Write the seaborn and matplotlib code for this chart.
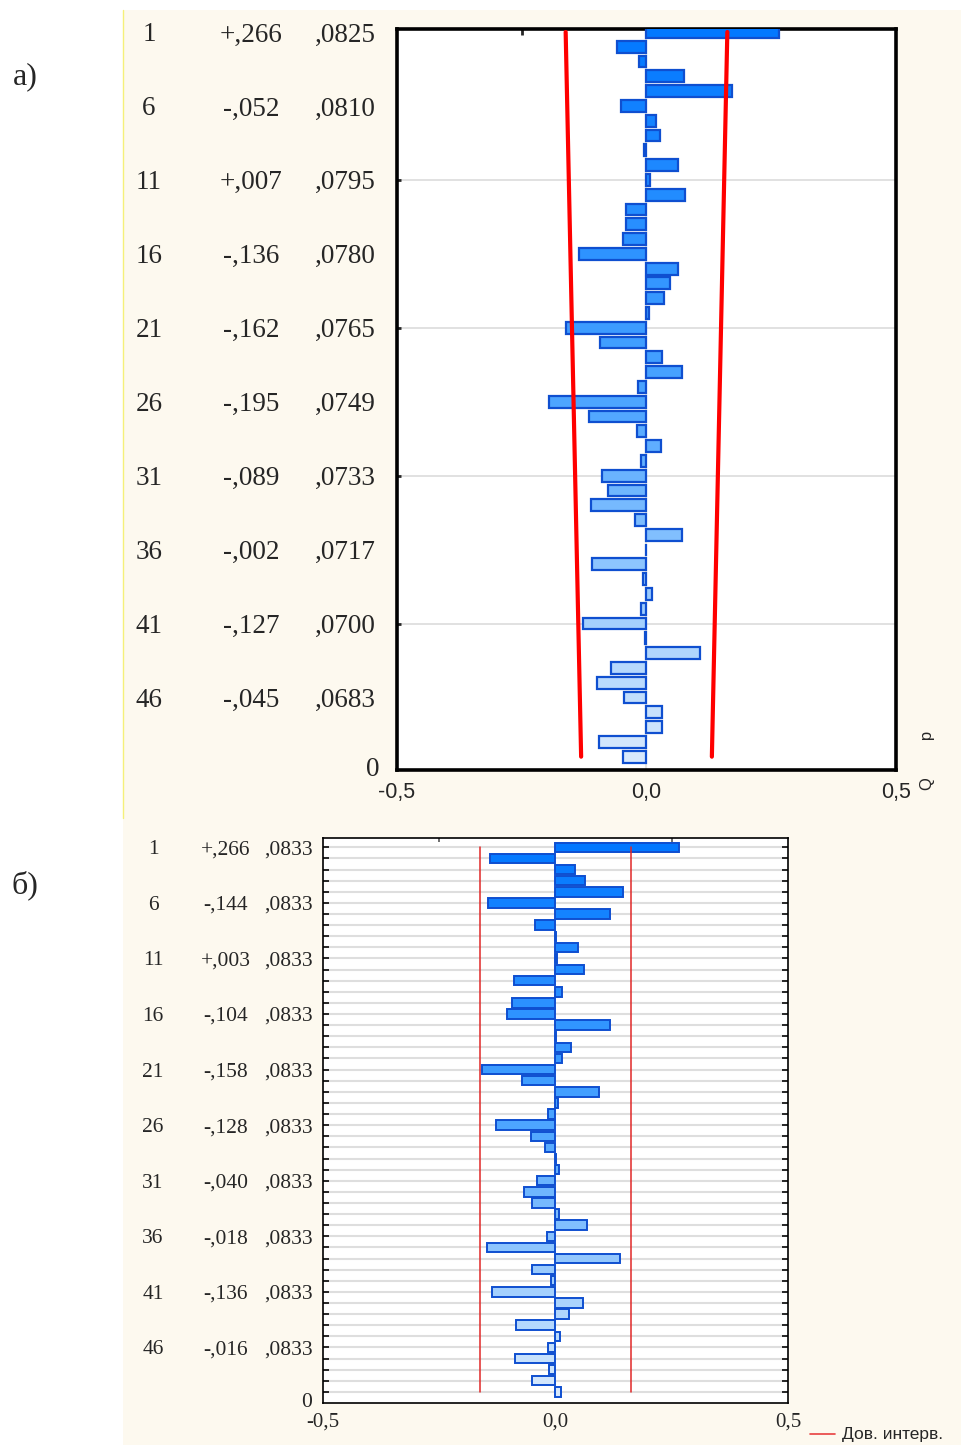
import matplotlib
matplotlib.use("Agg")
import matplotlib.pyplot as plt
import matplotlib.transforms as mtransforms
from matplotlib.colors import LinearSegmentedColormap, to_hex
from matplotlib.patches import Rectangle
from matplotlib.lines import Line2D
import seaborn as sns
import pandas as pd

# --- data -----------------------------------------------------------------
lags = list(range(1, 51))

# a) autocorrelation
acf = [0.266, -0.060, -0.015, 0.075, 0.172, -0.052, 0.019, 0.027, -0.005, 0.064,
       0.007, 0.078, -0.041, -0.041, -0.047, -0.136, 0.063, 0.047, 0.036, 0.005,
       -0.162, -0.094, 0.031, 0.071, -0.017, -0.195, -0.115, -0.019, 0.030, -0.012,
       -0.089, -0.077, -0.111, -0.023, 0.071, -0.002, -0.109, -0.007, 0.011, -0.012,
       -0.127, -0.003, 0.108, -0.072, -0.100, -0.045, 0.032, 0.032, -0.095, -0.047]
acf_se = [0.0825, 0.0810, 0.0795, 0.0780, 0.0765, 0.0749, 0.0733, 0.0717, 0.0700, 0.0683]
acf_ci_lags = [1, 50]
acf_ci = [0.162, 0.131]

# b) partial autocorrelation
pacf = [0.266, -0.141, 0.041, 0.064, 0.144, -0.144, 0.118, -0.045, 0.002, 0.048,
        0.003, 0.061, -0.090, 0.015, -0.093, -0.104, 0.116, 0.002, 0.033, 0.015,
        -0.158, -0.073, 0.094, 0.006, -0.016, -0.128, -0.053, -0.022, 0.002, 0.007,
        -0.040, -0.068, -0.050, 0.007, 0.068, -0.018, -0.148, 0.138, -0.050, -0.010,
        -0.136, 0.060, 0.030, -0.085, 0.010, -0.016, -0.086, -0.013, -0.050, 0.012]
pacf_se = [0.0833] * 10
pacf_ci = 0.163

label_lags = lags[::5]
xtick_vals = [-0.5, 0.0, 0.5]
xtick_text = ["-0,5", "0,0", "0,5"]

# --- style ----------------------------------------------------------------
sns.set_style("white")
SERIF = ["Liberation Serif", "DejaVu Serif"]
SANS = ["Liberation Sans", "DejaVu Sans"]
plt.rcParams["font.family"] = SANS

W, H = 962, 1445
def fx(x):
    return x / W
def fy(y):
    return 1 - y / H

cmap = LinearSegmentedColormap.from_list("bars", ["#0278ff", "#4aa4ff", "#d8e9fc"])
pal = {lag: to_hex(cmap(i / (len(lags) - 1))) for i, lag in enumerate(lags)}
shadow = {lag: to_hex(cmap(min(1.0, i / (len(lags) - 1) + 0.12))) for i, lag in enumerate(lags)}
edge = "#0f4fd0"


def fmt_r(v):
    s = f"{abs(v):.3f}"[1:].replace(".", ",")
    return ("+" if v >= 0 else "-") + s


def fmt_se(v):
    return f"{v:.4f}"[1:].replace(".", ",")


fig = plt.figure(figsize=(W / 100, H / 100), dpi=100)
fig.patch.set_facecolor("white")
fig.patches.append(Rectangle((fx(123), 0), 1 - fx(123), fy(10), transform=fig.transFigure,
                             facecolor="#fdf9ef", edgecolor="none", zorder=-5))
fig.lines.append(Line2D([fx(123), fx(123)], [fy(10), fy(818)], transform=fig.transFigure,
                        color="#f5f07a", lw=1, zorder=-4))

# --- panel a --------------------------------------------------------------
ax1 = fig.add_axes([fx(397), fy(770), (896 - 397) / W, (770 - 29) / H])
ax1.set_facecolor("white")
df_a = pd.DataFrame({"lag": lags, "r": acf})
# soft halo behind each bar, then the outlined bar
sns.barplot(data=df_a, x="r", y="lag", hue="lag", palette=shadow, orient="h",
            native_scale=True, width=0.9, errorbar=None, saturation=1,
            linewidth=0, legend=False, ax=ax1, zorder=2, alpha=0.55)
sns.barplot(data=df_a, x="r", y="lag", hue="lag", palette=pal, orient="h",
            native_scale=True, width=0.8, errorbar=None, saturation=1, edgecolor=edge,
            linewidth=1.6, legend=False, ax=ax1, zorder=3)
ax1.axvline(0, color="#e4e4e4", lw=1.5, zorder=1)
ax1.plot([-c for c in acf_ci], acf_ci_lags, color="red", lw=3, zorder=4)
ax1.plot(acf_ci, acf_ci_lags, color="red", lw=3, zorder=4)
ax1.set_xlim(-0.5, 0.5)
ax1.set_ylim(50.9, 0.8)
ax1.set_yticks(lags[10::10])
ax1.set_yticklabels([])
ax1.yaxis.grid(True, color="#dcdcdc", lw=1.2)
ax1.tick_params(axis="y", direction="in", length=3, width=2, left=True)
ax1.set_xticks(xtick_vals)
ax1.set_xticklabels(xtick_text, fontsize=15.5, family=SANS)
ax1.tick_params(axis="x", length=0, pad=9)
ax1.set_xticks([-0.25, 0, 0.25], minor=True)
ax1.tick_params(axis="x", which="minor", top=True, bottom=False, direction="in", length=4, width=2)
ax1.set_xlabel("")
ax1.set_ylabel("")
for s in ax1.spines.values():
    s.set_color("black")
    s.set_linewidth(2.6)

tr1 = mtransforms.blended_transform_factory(fig.transFigure, ax1.transData)
for lag, se in zip(label_lags, acf_se):
    ax1.text(fx(149), lag, str(lag), transform=tr1, ha="center", va="center_baseline",
             fontsize=19.5, family=SERIF)
    ax1.text(fx(251), lag, fmt_r(acf[lag - 1]), transform=tr1, ha="center", va="center_baseline",
             fontsize=19.5, family=SERIF)
    ax1.text(fx(345), lag, fmt_se(se), transform=tr1, ha="center", va="center_baseline",
             fontsize=19.5, family=SERIF)
fig.text(fx(373), fy(767), "0", ha="center", va="center_baseline", fontsize=19.5, family=SERIF)
fig.text(fx(928), fy(760), "Q        p", rotation=90, ha="center", va="center", fontsize=12, family=SANS)
fig.text(fx(25), fy(77), "а)", ha="center", va="center", fontsize=23, family=SERIF)

# --- panel b --------------------------------------------------------------
ax2 = fig.add_axes([fx(322.7), fy(1403), (788.3 - 322.7) / W, (1403 - 838) / H])
ax2.set_facecolor("white")
df_b = pd.DataFrame({"lag": lags, "r": pacf})
sns.barplot(data=df_b, x="r", y="lag", hue="lag", palette=shadow, orient="h",
            native_scale=True, width=0.95, errorbar=None, saturation=1,
            linewidth=0, legend=False, ax=ax2, zorder=2, alpha=0.55)
sns.barplot(data=df_b, x="r", y="lag", hue="lag", palette=pal, orient="h",
            native_scale=True, width=0.85, errorbar=None, saturation=1, edgecolor=edge,
            linewidth=1.4, legend=False, ax=ax2, zorder=3)
ax2.plot([-pacf_ci, -pacf_ci], [lags[0], lags[-1]], color="#e02828", lw=1.1, zorder=4)
ax2.plot([pacf_ci, pacf_ci], [lags[0], lags[-1]], color="#e02828", lw=1.1, zorder=4)
ax2.set_xlim(-0.5, 0.5)
ax2.set_ylim(51.0, 0.16)
ax2.set_yticks(lags)
ax2.set_yticklabels([])
ax2.yaxis.grid(True, color="#dedede", lw=1.5)
ax2.tick_params(axis="y", direction="in", length=4, width=1.4, left=True, right=True)
ax2.set_xticks(xtick_vals)
ax2.set_xticklabels(xtick_text, fontsize=15, family=SERIF)
ax2.tick_params(axis="x", length=0, pad=7)
ax2.set_xticks([-0.25, 0, 0.25], minor=True)
ax2.tick_params(axis="x", which="minor", top=True, bottom=False, direction="in", length=3,
                width=1.2, color="#555555")
ax2.set_xlabel("")
ax2.set_ylabel("")
for s in ax2.spines.values():
    s.set_color("black")
    s.set_linewidth(1.2)

tr2 = mtransforms.blended_transform_factory(fig.transFigure, ax2.transData)
for lag, se in zip(label_lags, pacf_se):
    ax2.text(fx(153), lag, str(lag), transform=tr2, ha="center", va="center_baseline",
             fontsize=15.5, family=SERIF)
    ax2.text(fx(226), lag, fmt_r(pacf[lag - 1]), transform=tr2, ha="center", va="center_baseline",
             fontsize=15.5, family=SERIF)
    ax2.text(fx(289), lag, fmt_se(se), transform=tr2, ha="center", va="center_baseline",
             fontsize=15.5, family=SERIF)
fig.text(fx(307), fy(1400), "0", ha="center", va="center_baseline", fontsize=15.5, family=SERIF)
fig.text(fx(25), fy(885), "б)", ha="center", va="center", fontsize=23, family=SERIF)

# legend
fig.lines.append(Line2D([fx(810), fx(835)], [fy(1434), fy(1434)], transform=fig.transFigure,
                        color="#e84040", lw=1.2))
fig.text(fx(842), fy(1434), "Дов. интерв.", ha="left", va="center", fontsize=12.5, family=SANS)

fig.savefig("out.png", dpi=100)
